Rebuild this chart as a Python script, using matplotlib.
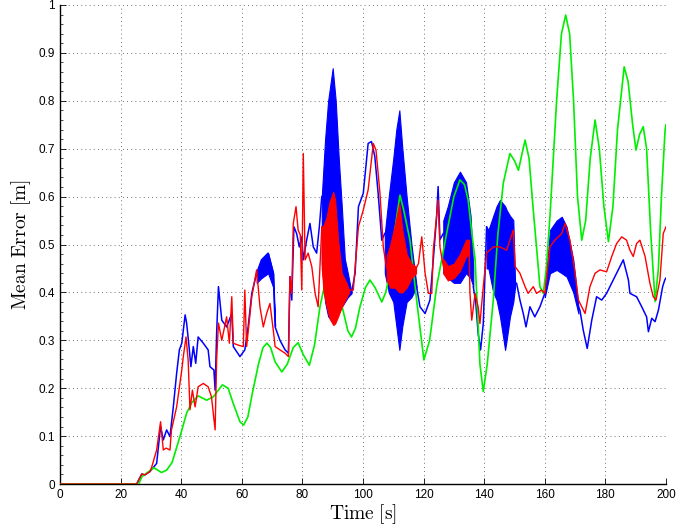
import numpy as np
import matplotlib
matplotlib.use("Agg")
import matplotlib.pyplot as plt
from matplotlib.ticker import MultipleLocator

plt.rcParams['mathtext.fontset'] = 'cm'

# --- datos ---
t_azul = [0, 25.3, 27, 28, 29.7, 31.9, 33.2, 34.1, 35.2, 36.3, 37.4, 38.5, 39.4, 40.2, 41.3, 41.8,
          42.7, 43.2, 44.0, 44.8, 45.6, 47.3, 48.9, 49.5, 50.8, 51.2, 51.7, 52.3, 53.4, 55.0, 56.7,
          57.2, 59.4, 61.0, 62.1, 63.3, 64.9, 66.5, 68.7, 70.4, 71.0, 72.6, 74.3, 75.4, 75.9, 76.5,
          77.2, 78.1, 79.0, 79.8, 80.3, 81.4, 82.5, 83.6, 84.7, 85.6, 86.4, 96.2, 97.4, 98.5, 100.1,
          101.7, 102.8, 103.9, 105.0, 106.2, 107.2, 117.7, 118.8, 120.5, 122.1, 123.2, 124.3, 124.8,
          125.4, 126.5, 136.4, 137.2, 138.0, 138.8, 139.7, 140.8, 150.2, 150.7, 151.8, 152.9, 153.8,
          155.1, 156.7, 158.4, 160.0, 171.1, 171.6, 172.7, 174.0, 175.5, 177.1, 178.8, 180.4, 182.6,
          184.8, 185.9, 187.6, 188.1, 190.3, 192.0, 193.6, 194.2, 195.3, 196.4, 197.5, 198.9, 199.6, 200]
e_azul = [0, 0, 0.021, 0.019, 0.026, 0.043, 0.12, 0.092, 0.113, 0.099, 0.161, 0.231, 0.28, 0.294, 0.353, 0.336,
          0.28, 0.245, 0.287, 0.252, 0.307, 0.294, 0.28, 0.245, 0.238, 0.196, 0.315, 0.412, 0.342, 0.328, 0.356,
          0.287, 0.266, 0.28, 0.328, 0.398, 0.44, 0.468, 0.482, 0.44, 0.328, 0.30, 0.28, 0.273, 0.433, 0.384,
          0.537, 0.523, 0.495, 0.516, 0.468, 0.509, 0.544, 0.495, 0.482, 0.537, 0.6, 0.398, 0.44, 0.579, 0.607,
          0.711, 0.715, 0.684, 0.607, 0.509, 0.523, 0.412, 0.37, 0.356, 0.384, 0.468, 0.558, 0.621,
          0.51, 0.523, 0.412, 0.38, 0.315, 0.28, 0.335, 0.537, 0.42, 0.419, 0.384, 0.356, 0.328,
          0.37, 0.349, 0.37, 0.398, 0.37, 0.363, 0.321, 0.283, 0.342, 0.391, 0.384, 0.398, 0.426,
          0.454, 0.468, 0.426, 0.398, 0.391, 0.37, 0.349, 0.318, 0.346, 0.339, 0.363, 0.412, 0.426, 0.43]

# zonas de oscilacion rapida (azul): tiempo, minimo, maximo
t_azul_osc = [[64.9, 66.5, 68.7, 70.4, 71.0],
              [86.4, 87.5, 88.5, 90.0, 91.0, 92.0, 93.0, 94.0, 95.0, 96.2],
              [107.2, 108.5, 110.0, 111.0, 112.0, 113.0, 114.4, 116.0, 117.7],
              [126.5, 128.0, 130.0, 132.0, 134.0, 135.5, 136.4],
              [140.8, 141.4, 143.0, 144.1, 145.2, 146.9, 147.4, 148.5, 149.6, 150.2],
              [160.0, 161.7, 163.9, 165.6, 167.2, 169.4, 171.1]]
min_azul_osc = [[0.42, 0.43, 0.44, 0.41, 0.33],
                [0.46, 0.38, 0.35, 0.34, 0.35, 0.36, 0.37, 0.38, 0.39, 0.398],
                [0.44, 0.40, 0.38, 0.33, 0.28, 0.33, 0.38, 0.39, 0.412],
                [0.44, 0.43, 0.42, 0.42, 0.44, 0.43, 0.412],
                [0.45, 0.45, 0.40, 0.384, 0.35, 0.28, 0.30, 0.349, 0.38, 0.412],
                [0.39, 0.44, 0.447, 0.44, 0.433, 0.40, 0.356]]
max_azul_osc = [[0.44, 0.468, 0.482, 0.44, 0.33],
                [0.6, 0.72, 0.8, 0.868, 0.8, 0.68, 0.58, 0.47, 0.44, 0.40],
                [0.523, 0.6, 0.68, 0.74, 0.78, 0.7, 0.6, 0.5, 0.412],
                [0.55, 0.58, 0.63, 0.652, 0.63, 0.56, 0.45],
                [0.537, 0.53, 0.56, 0.58, 0.593, 0.58, 0.572, 0.56, 0.551, 0.42],
                [0.40, 0.53, 0.55, 0.558, 0.537, 0.468, 0.37]]

t_rojo = [0, 25.3, 27, 28, 29.7, 30.3, 31.9, 33.2, 34.1, 35.0, 36.3, 36.8, 38.5, 40.2, 40.7, 41.6,
          42.3, 42.7, 42.9, 43.7, 44.6, 45.6, 47.3, 48.9, 50.0, 51.2, 51.7, 52.3, 53.4, 55.0, 55.9,
          56.7, 57.2, 58.8, 60.5, 61.0, 61.6, 63.3, 64.9, 66.0, 67.1, 68.2, 69.3, 70.4, 71.0, 72.6,
          74.3, 75.4, 75.9, 76.5, 77.0, 77.9, 78.6, 79.3, 79.8, 80.3, 80.9, 81.9, 83.1, 84.2, 85.2,
          86.4, 95.4, 96.8, 98.5, 100.1, 101.7, 103.4, 104.3, 105.6, 106.7, 107.8, 117.5, 118.3,
          119.4, 120.5, 121.6, 122.7, 123.2, 124.8, 125.4, 126.5, 135.0, 135.3, 135.9, 137.0, 138.0,
          138.6, 139.7, 140.8, 143.0, 145.2, 147.4, 149.6, 150.2, 151.8, 153.5, 154.5, 156.2, 157.3,
          158.9, 160.0, 161.7, 163.3, 165.6, 166.7, 168.3, 170.0, 171.1, 173.3, 174.9, 176.6, 178.2,
          180.4, 182.1, 183.7, 185.4, 187.0, 188.1, 189.2, 190.3, 191.4, 193.1, 194.7, 195.8, 196.7,
          198.0, 199.1, 200]
e_rojo = [0, 0, 0.021, 0.019, 0.026, 0.036, 0.071, 0.13, 0.071, 0.075, 0.071, 0.113, 0.161, 0.238, 0.266, 0.307,
          0.259, 0.189, 0.155, 0.196, 0.161, 0.203, 0.21, 0.203, 0.182, 0.113, 0.259, 0.336, 0.30, 0.349, 0.294,
          0.391, 0.294, 0.29, 0.287, 0.405, 0.287, 0.391, 0.447, 0.37, 0.328, 0.356, 0.377, 0.321, 0.287, 0.28,
          0.273, 0.266, 0.433, 0.398, 0.544, 0.579, 0.53, 0.52, 0.405, 0.69, 0.468, 0.482, 0.454, 0.398, 0.37,
          0.537, 0.405, 0.405, 0.537, 0.572, 0.614, 0.711, 0.697, 0.607, 0.495, 0.45, 0.45, 0.46,
          0.516, 0.44, 0.398, 0.398, 0.488, 0.593, 0.495, 0.455, 0.495, 0.398, 0.342, 0.398, 0.37,
          0.335, 0.412, 0.482, 0.495, 0.495, 0.488, 0.53, 0.454, 0.44, 0.412, 0.398, 0.412, 0.398,
          0.405, 0.398, 0.495, 0.509, 0.523, 0.544, 0.509, 0.44, 0.384, 0.356, 0.412, 0.44, 0.447,
          0.443, 0.475, 0.502, 0.516, 0.509, 0.488, 0.475, 0.502, 0.509, 0.475, 0.419, 0.391, 0.384,
          0.426, 0.523, 0.537]

t_rojo_osc = [[86.4, 87.0, 88.0, 89.0, 90.2, 90.8, 91.8, 93.0, 94.6, 95.4],
              [107.8, 109.0, 110.5, 112.0, 113.0, 114.4, 116.0, 117.5],
              [126.5, 128.0, 130.0, 132.0, 134.0, 135.0]]
min_rojo_osc = [[0.45, 0.40, 0.37, 0.345, 0.332, 0.335, 0.35, 0.37, 0.39, 0.40],
                [0.426, 0.41, 0.41, 0.40, 0.40, 0.41, 0.43, 0.44],
                [0.44, 0.425, 0.43, 0.445, 0.475, 0.48]]
max_rojo_osc = [[0.537, 0.54, 0.558, 0.59, 0.61, 0.593, 0.509, 0.44, 0.419, 0.405],
                [0.475, 0.5, 0.54, 0.586, 0.53, 0.48, 0.46, 0.454],
                [0.47, 0.455, 0.46, 0.48, 0.51, 0.51]]

t_verde = [0, 26, 27, 28, 29.7, 31, 33.5, 35.2, 37, 39.6, 41.8, 43.5, 45.6, 48.4, 50.6, 53.6, 55.5,
           57.2, 59.4, 60.6, 62, 63.5, 65.5, 67, 68.3, 69.5, 71, 73.2, 75, 77, 78.6, 80.3, 82.3, 84,
           85.8, 87.5, 89, 90.5, 92, 93.5, 95, 96.2, 97.5, 99, 100.8, 102.3, 104, 106.2, 107.5, 108.9,
           110.5, 112.2, 113.5, 115.5, 117.7, 120.1, 122, 124.3, 127.6, 130, 132, 133.5, 134.7, 136,
           137, 138.6, 139.7, 141, 143, 144.5, 146.3, 148.5, 150, 151.3, 152.5, 153.5, 154.8, 156.2,
           158.4, 159.5, 160.5, 161.7, 163.9, 165.5, 166.9, 168.2, 169.5, 170.8, 172.2, 173.5, 175,
           176.6, 178, 179.5, 181, 182.5, 184, 186.2, 187.5, 189, 190.1, 191.3, 192.5, 193.6, 195,
           196.4, 197.5, 198.5, 199.7, 200]
e_verde = [0, 0, 0.015, 0.02, 0.028, 0.034, 0.024, 0.029, 0.045, 0.099, 0.148, 0.17, 0.184, 0.175, 0.182, 0.207, 0.2,
           0.168, 0.13, 0.123, 0.14, 0.19, 0.25, 0.285, 0.294, 0.285, 0.255, 0.234, 0.25, 0.285, 0.295, 0.27, 0.248, 0.29,
           0.37, 0.42, 0.44, 0.43, 0.40, 0.36, 0.32, 0.307, 0.325, 0.37, 0.41, 0.426, 0.41, 0.38, 0.40, 0.44,
           0.53, 0.603, 0.57, 0.509, 0.384, 0.259, 0.30, 0.412, 0.523, 0.6, 0.635, 0.625, 0.593, 0.52,
           0.468, 0.25, 0.193, 0.25, 0.384, 0.52, 0.628, 0.69, 0.675, 0.655, 0.69, 0.718, 0.68, 0.572,
           0.412, 0.398, 0.45, 0.558, 0.80, 0.94, 0.979, 0.94, 0.80, 0.6, 0.509, 0.55, 0.68,
           0.76, 0.70, 0.58, 0.506, 0.58, 0.74, 0.871, 0.84, 0.75, 0.697, 0.73, 0.746, 0.70, 0.52,
           0.381, 0.45, 0.6, 0.739, 0.75]

AZUL = '#0000ff'
ROJO = '#ff0000'
VERDE = '#00ee00'


def cortar_en_bandas(t, e, bandas):
    # corta la linea dentro de cada zona de oscilacion (ahi se dibuja el relleno)
    t = list(t)
    e = list(e)
    for tb in bandas:
        ini, fin = tb[0], tb[-1]
        for i in range(len(t) - 1):
            if t[i] == ini and t[i + 1] == fin:
                t.insert(i + 1, (ini + fin) / 2)
                e.insert(i + 1, np.nan)
                break
    return t, e


fig = plt.figure(figsize=(6.91, 5.26), dpi=100)
ax = fig.add_axes([0.0868, 0.0798, 0.8770, 0.9107])

ta, ea = cortar_en_bandas(t_azul, e_azul, t_azul_osc)
ax.plot(ta, ea, color=AZUL, lw=1.1, zorder=2)
for tt, lo, hi in zip(t_azul_osc, min_azul_osc, max_azul_osc):
    ax.fill_between(tt, lo, hi, color=AZUL, lw=0.8, zorder=2)

ax.plot(t_verde, e_verde, color=VERDE, lw=1.2, zorder=3)

tr, er = cortar_en_bandas(t_rojo, e_rojo, t_rojo_osc)
ax.plot(tr, er, color=ROJO, lw=1.0, zorder=4)
for tt, lo, hi in zip(t_rojo_osc, min_rojo_osc, max_rojo_osc):
    ax.fill_between(tt, lo, hi, color=ROJO, lw=0.8, zorder=4)

ax.set_xlim(0, 200)
ax.set_ylim(0, 1)
ax.set_xticks(np.arange(0, 201, 20))
ax.set_yticks(np.arange(0, 1.01, 0.1))
ax.set_yticklabels(['0', '0.1', '0.2', '0.3', '0.4', '0.5', '0.6', '0.7', '0.8', '0.9', '1'])
ax.yaxis.set_minor_locator(MultipleLocator(0.02))
ax.tick_params(direction='in', labelsize=8.5, length=4, width=0.6)
ax.tick_params(which='minor', direction='in', length=2, width=0.5)
for lab in ax.get_xticklabels() + ax.get_yticklabels():
    lab.set_fontfamily('Liberation Sans')

ax.grid(True, linestyle=(0, (1, 4)), color='#444444', lw=0.6)
ax.spines['top'].set_visible(False)
ax.spines['right'].set_visible(False)
ax.spines['left'].set_linewidth(1.0)
ax.spines['bottom'].set_linewidth(1.0)

ax.set_xlabel(r'$\mathrm{Time\ [s]}$', fontsize=14, labelpad=1)
ax.set_ylabel(r'$\mathrm{Mean\ Error\ [m]}$', fontsize=14, labelpad=4)

fig.savefig('out.png', dpi=100)
plt.close(fig)
